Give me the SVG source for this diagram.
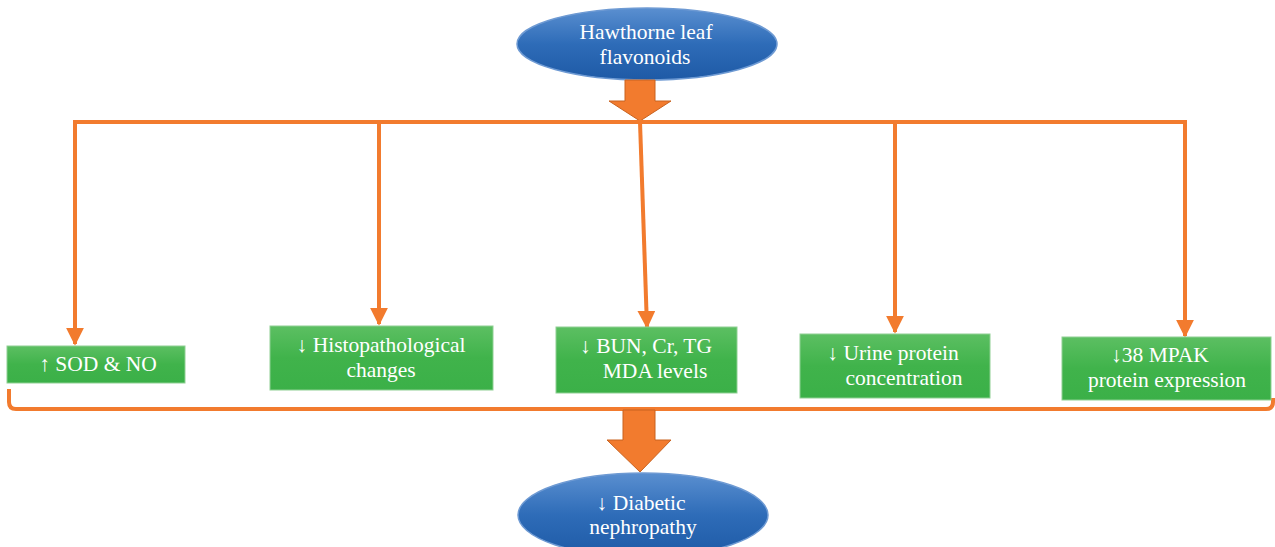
<svg xmlns="http://www.w3.org/2000/svg" width="1275" height="547" viewBox="0 0 1275 547">
<defs>
<linearGradient id="gb" x1="0" y1="0" x2="0" y2="1"><stop offset="0" stop-color="#5a8fd0"/><stop offset="0.5" stop-color="#2e6cb8"/><stop offset="1" stop-color="#1e5aa6"/></linearGradient>
<linearGradient id="gg" x1="0" y1="0" x2="0" y2="1"><stop offset="0" stop-color="#5cbf62"/><stop offset="0.5" stop-color="#40b34b"/><stop offset="1" stop-color="#3bb048"/></linearGradient>
<marker id="ah" viewBox="0 0 10 10" refX="9" refY="5" markerWidth="4.5" markerHeight="4.5" orient="auto" markerUnits="strokeWidth"><path d="M0,0 L10,5 L0,10 z" fill="#f27b2e"/></marker>
</defs>
<style>
.ell{fill:url(#gb);stroke:#6e9ad3;stroke-width:1.5}
.box{fill:url(#gg);stroke:#8fd093;stroke-width:1}
.t{font-family:"Liberation Serif",serif;font-size:21.5px;fill:#ffffff;text-anchor:middle}
.ln{stroke:#f27b2e;stroke-width:4;fill:none}
.fat{fill:#f27b2e;stroke:#c8621f;stroke-width:1}
</style>
<g id="top">
<ellipse class="ell" cx="647" cy="44" rx="130" ry="36"/>
<text class="t" x="646" y="39">Hawthorne leaf</text>
<text class="t" x="645" y="64">flavonoids</text>
</g>
<g id="connectors">
<path class="fat" d="M625,80 L655,80 L655,101 L671,101 L640,121 L609,101 L625,101 z"/>
<line class="ln" x1="73" y1="122" x2="1187" y2="122"/>
<line class="ln" x1="75" y1="122" x2="75" y2="344" marker-end="url(#ah)"/>
<line class="ln" x1="379" y1="120" x2="379" y2="324" marker-end="url(#ah)"/>
<line class="ln" x1="640" y1="122" x2="647" y2="327" marker-end="url(#ah)"/>
<line class="ln" x1="895" y1="120" x2="895" y2="332" marker-end="url(#ah)"/>
<line class="ln" x1="1185" y1="122" x2="1185" y2="336" marker-end="url(#ah)"/>
<path class="ln" stroke-width="3" d="M9,389 L9,402 Q9,409 16,409 L1266,409 Q1273,409 1273,402 L1273,398"/>
<path class="fat" d="M623,410 L655,410 L655,440 L671,440 L640,472 L607,440 L623,440 z"/>
</g>
<g id="n1">
<rect class="box" x="7" y="346" width="178" height="37"/>
<text class="t" x="98" y="371">↑ SOD &amp; NO</text>
</g>
<g id="n2">
<rect class="box" x="270" y="326" width="223" height="64"/>
<text class="t" x="381" y="352">↓ Histopathological</text>
<text class="t" x="381" y="377">changes</text>
</g>
<g id="n3">
<rect class="box" x="556" y="327" width="181" height="66"/>
<text class="t" x="646" y="353">↓  BUN, Cr, TG</text>
<text class="t" x="655" y="378">MDA levels</text>
</g>
<g id="n4">
<rect class="box" x="800" y="334" width="190" height="64"/>
<text class="t" x="893" y="360">↓ Urine protein</text>
<text class="t" x="904" y="385">concentration</text>
</g>
<g id="n5">
<rect class="box" x="1062" y="337" width="209" height="63"/>
<text class="t" x="1160" y="362">↓38 MPAK</text>
<text class="t" x="1167" y="387">protein expression</text>
</g>
<g id="bottom">
<ellipse class="ell" cx="643" cy="515" rx="125" ry="42"/>
<text class="t" x="641" y="510">↓  Diabetic</text>
<text class="t" x="643" y="534">nephropathy</text>
</g>
</svg>
